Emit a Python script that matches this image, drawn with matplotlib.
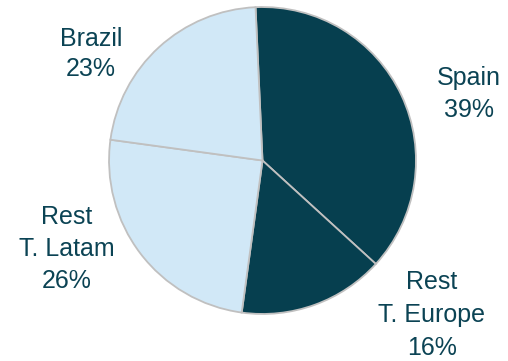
import matplotlib.pyplot as plt

# revenue split by region (label values, drawn as given)
regions = ["Spain", "Rest\nT. Europe", "Rest\nT. Latam", "Brazil"]
shares = [39, 16, 26, 23]

dark = "#063f4f"
light = "#d1e8f7"
colors = [dark, dark, light, light]

plt.rcParams["font.family"] = ["Liberation Sans", "DejaVu Sans"]

fig = plt.figure(figsize=(5.08, 3.61), dpi=100)
W, H = 508, 361
cx, cy, r = 262.5, 160.5, 155
ax = fig.add_axes([(cx - r) / W, (H - cy - r) / H, 2 * r / W, 2 * r / H])

ax.pie(shares, colors=colors, startangle=92.6, counterclock=False,
       radius=1.0, wedgeprops=dict(edgecolor="#c0c0c0", linewidth=1.3))
ax.set_xlim(-1.01, 1.01)
ax.set_ylim(-1.01, 1.01)
ax.set_aspect("equal")
ax.axis("off")

# label positions in pixels (x centre, y centre of text block) and line spacing
label_pos = [(469, 94, 1.38), (432, 315, 1.48), (67, 249, 1.42), (91, 54, 1.3)]
for name, val, (x, y, ls) in zip(regions, shares, label_pos):
    fig.text(x / W, 1 - y / H, f"{name}\n{val}%", ha="center", va="center",
             fontsize=18, color="#0b4354", linespacing=ls)

fig.savefig("out.png", dpi=100)
